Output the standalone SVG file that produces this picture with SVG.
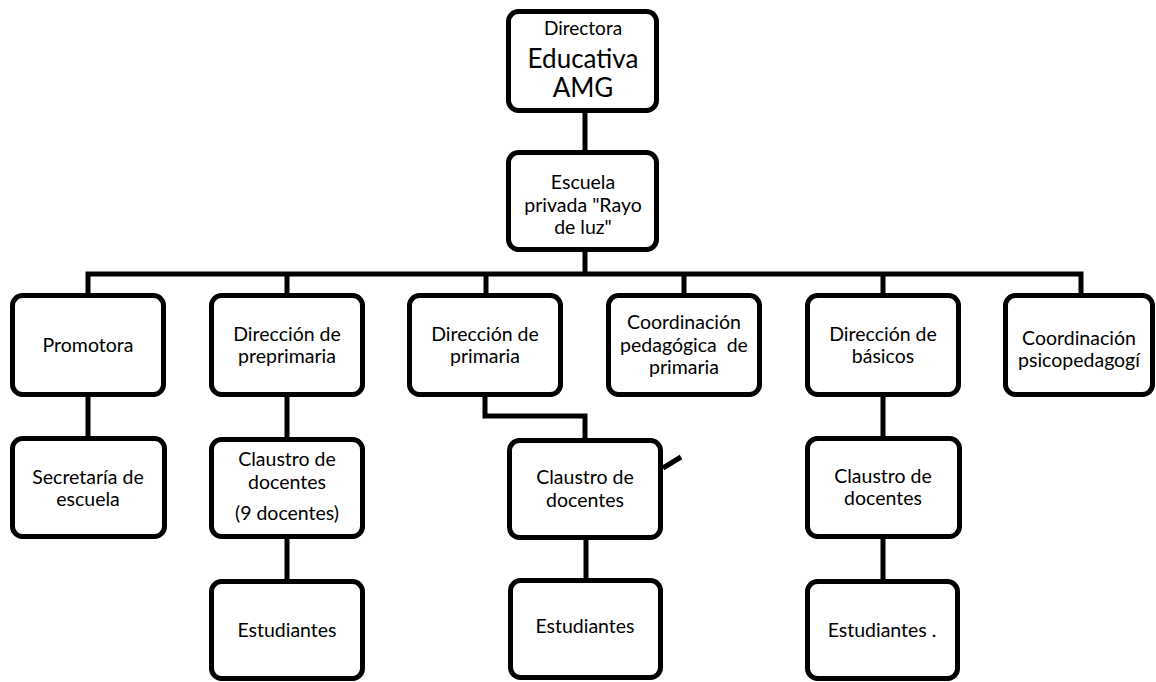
<svg xmlns="http://www.w3.org/2000/svg" width="1156" height="682" viewBox="0 0 1156 682">
<style>
.box{fill:#fff;stroke:#000;stroke-width:5}
.c{fill:none;stroke:#000;stroke-width:5;stroke-linejoin:miter}
text{font-family:Lato,"Liberation Sans",sans-serif;font-size:19.5px;fill:#000;text-anchor:middle}
.s{font-size:19px}
.l{font-size:26px}
</style>
<rect width="1156" height="682" fill="#fff"/>
<g id="connectors">
<path class="c" d="M585 113V150M585 250V274M88 293V274H1081V293M287 274V293M486 274V293M684 274V293M883 274V293"/>
<path class="c" d="M88 397V436M287 397V437M287 538V579M485 397V416H585V438M586 540V578M883 397V436M883 539V579M663 468L681 457"/>
</g>
<g id="n-directora"><rect class="box" x="508.5" y="11.5" width="148" height="99" rx="10"/><text class="s" x="583" y="35">Directora</text><text class="l" x="583" y="68">Educativa</text><text class="l" x="583" y="97">AMG</text></g>
<g id="n-escuela"><rect class="box" x="508.5" y="152.5" width="148" height="97" rx="10"/><text x="583" y="189">Escuela</text><text x="583" y="212">privada "Rayo</text><text x="583" y="234">de luz"</text></g>
<g id="n-promotora"><rect class="box" x="12.5" y="295.5" width="151" height="99" rx="10"/><text x="88" y="352">Promotora</text></g>
<g id="n-preprimaria"><rect class="box" x="211.5" y="295.5" width="151" height="99" rx="10"/><text x="287" y="341">Dirección de</text><text x="287" y="363">preprimaria</text></g>
<g id="n-primaria"><rect class="box" x="409.5" y="295.5" width="151" height="99" rx="10"/><text x="485" y="341">Dirección de</text><text x="485" y="363">primaria</text></g>
<g id="n-coordped"><rect class="box" x="608.5" y="295.5" width="151" height="99" rx="10"/><text x="684" y="329">Coordinación</text><text x="684" y="352" xml:space="preserve">pedagógica  de</text><text x="684" y="374">primaria</text></g>
<g id="n-basicos"><rect class="box" x="807.5" y="295.5" width="151" height="99" rx="10"/><text x="883" y="341">Dirección de</text><text x="883" y="363">básicos</text></g>
<g id="n-psico"><rect class="box" x="1005.5" y="295.5" width="147" height="99" rx="10"/><text x="1079" y="345">Coordinación</text><text x="1079" y="367">psicopedagogí</text></g>
<g id="n-secretaria"><rect class="box" x="12.5" y="438.5" width="152" height="98" rx="10"/><text x="88" y="484">Secretaría de</text><text x="88" y="506">escuela</text></g>
<g id="n-claustro-pre"><rect class="box" x="211.5" y="439.5" width="151" height="97" rx="10"/><text x="287" y="466">Claustro de</text><text x="287" y="489">docentes</text><text x="287" y="520">(9 docentes)</text></g>
<g id="n-claustro-prim"><rect class="box" x="509.5" y="440.5" width="151" height="97" rx="10"/><text x="585" y="484">Claustro de</text><text x="585" y="507">docentes</text></g>
<g id="n-claustro-bas"><rect class="box" x="807.5" y="438.5" width="152" height="98" rx="10"/><text x="883" y="483">Claustro de</text><text x="883" y="505">docentes</text></g>
<g id="n-est-pre"><rect class="box" x="211.5" y="581.5" width="151" height="97" rx="10"/><text x="287" y="637">Estudiantes</text></g>
<g id="n-est-prim"><rect class="box" x="510.5" y="580.5" width="150" height="97" rx="10"/><text x="585" y="633">Estudiantes</text></g>
<g id="n-est-bas"><rect class="box" x="807.5" y="581.5" width="150" height="97" rx="10"/><text x="882" y="637">Estudiantes .</text></g>
</svg>
